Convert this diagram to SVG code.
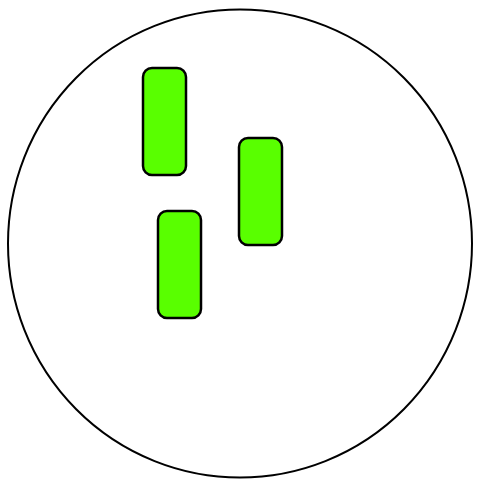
<svg xmlns="http://www.w3.org/2000/svg" width="477" height="480" viewBox="0 0 477 480">
<style>
.bd{fill:#fff;stroke:#000;stroke-width:2}
.n{fill:#59ff00;stroke:#000;stroke-width:2.5}
</style>
<rect width="477" height="480" fill="#fff"/>
<ellipse id="boundary" class="bd" cx="240" cy="243.5" rx="232" ry="234"/>
<g id="node1"><rect class="n" x="143" y="68" width="43" height="107" rx="9"/></g>
<g id="node2"><rect class="n" x="239" y="138" width="43" height="107" rx="9"/></g>
<g id="node3"><rect class="n" x="158" y="211" width="43" height="107" rx="9"/></g>
<g id="connectors"></g>
</svg>
